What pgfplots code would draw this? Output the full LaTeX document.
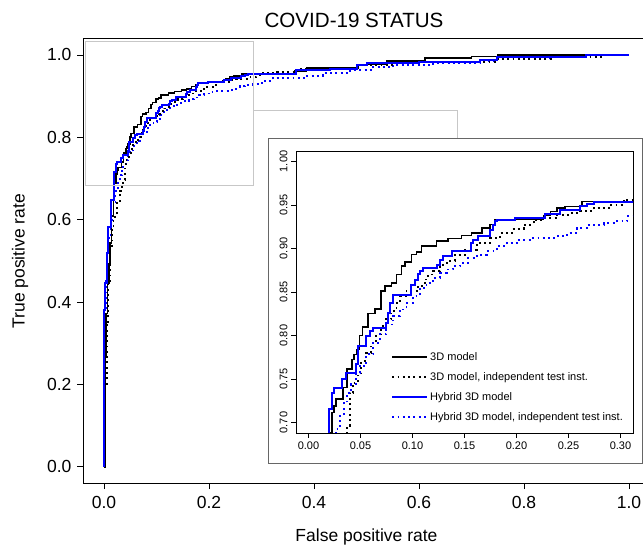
\documentclass[border=0pt]{standalone}
\usepackage{fontspec}
\setmainfont{Liberation Sans}
\usepackage{pgfplots}
\usepackage{pgfplotstable}
\pgfplotsset{compat=1.18}

% 3D model (black solid)
\pgfplotstableread{
x y
0 0
0.0019 0.265
0.004 0.372
0.0064 0.446
0.010 0.494
0.011 0.544
0.0146 0.609
0.018 0.650
0.0196 0.6885
0.0228 0.7115
0.0245 0.7191
0.0267 0.7268
0.0331 0.7401
0.0370 0.7612
0.0421 0.7726
0.0440 0.7780
0.0460 0.7841
0.0492 0.8001
0.0518 0.8097
0.0572 0.8253
0.0637 0.8307
0.0700 0.8510
0.0733 0.8567
0.0797 0.8605
0.0846 0.8701
0.0894 0.8796
0.0926 0.8842
0.0990 0.8930
0.1039 0.8961
0.1087 0.9025
0.1232 0.9083
0.1344 0.9113
0.1473 0.9148
0.1569 0.9178
0.1666 0.9236
0.1746 0.9274
0.1794 0.9331
0.2260 0.9377
0.2325 0.9427
0.2389 0.9465
0.2469 0.9484
0.2630 0.9538
0.364 0.961
0.386 0.969
0.484 0.977
0.538 0.985
0.611 0.992
0.70 0.996
0.75 1.0
1.0 1.0
}\bs

% 3D model, independent test inst. (black dotted)
\pgfplotstableread{
x y
0 0
0.002 0.20
0.005 0.35
0.008 0.45
0.011 0.53
0.015 0.58
0.018 0.607
0.024 0.64
0.030 0.670
0.034 0.685
0.0370 0.6962
0.0395 0.7344
0.0428 0.7459
0.0476 0.7573
0.0508 0.7707
0.0556 0.7803
0.0605 0.7917
0.0653 0.8013
0.0701 0.8108
0.0749 0.8185
0.0797 0.8280
0.0846 0.8376
0.0878 0.8452
0.0942 0.8510
0.1055 0.8567
0.1119 0.8643
0.1151 0.8701
0.1199 0.8739
0.1264 0.8815
0.1328 0.8854
0.1408 0.8930
0.1505 0.8987
0.1617 0.9064
0.1746 0.9121
0.1842 0.9178
0.1955 0.9224
0.2068 0.9274
0.2164 0.9331
0.2260 0.9350
0.2389 0.9389
0.2518 0.9408
0.2614 0.9427
0.2743 0.9465
0.2904 0.9503
0.3032 0.9561
0.329 0.958
0.367 0.966
0.424 0.969
0.488 0.976
0.551 0.980
0.596 0.984
0.748 0.990
0.855 0.996
0.95 1.0
1.0 1.0
}\bd

% Hybrid 3D model (blue solid)
\pgfplotstableread{
x y
0 0
0 0.381
0.002 0.446
0.005 0.519
0.008 0.583
0.0127 0.648
0.0193 0.7153
0.0228 0.7344
0.0241 0.7401
0.0322 0.7497
0.0357 0.7573
0.0460 0.7669
0.0476 0.7879
0.0556 0.7994
0.0588 0.8051
0.0621 0.8089
0.0743 0.8147
0.0765 0.8261
0.0788 0.8376
0.0814 0.8471
0.0990 0.8586
0.1023 0.8643
0.1055 0.8701
0.1071 0.8739
0.1103 0.8777
0.1232 0.8815
0.1264 0.8873
0.1296 0.8911
0.1376 0.8968
0.1559 0.9064
0.1585 0.9102
0.1633 0.9140
0.1746 0.9217
0.1778 0.9274
0.1794 0.9312
0.1810 0.9331
0.1987 0.9350
0.2277 0.9396
0.2421 0.9446
0.2614 0.9484
0.2678 0.9511
0.2743 0.9538
0.366 0.9635
0.431 0.966
0.481 0.976
0.500 0.980
0.600 0.984
0.716 0.988
0.748 0.996
0.919 1.0
1.0 1.0
}\hs

% Hybrid 3D model, independent test inst. (blue dotted)
\pgfplotstableread{
x y
0 0
0.001 0.30
0.003 0.45
0.006 0.52
0.010 0.56
0.014 0.60
0.018 0.64
0.022 0.67
0.0267 0.6924
0.0299 0.7076
0.0338 0.7229
0.0370 0.7344
0.0412 0.7440
0.0460 0.7573
0.0492 0.7650
0.0556 0.7783
0.0621 0.7917
0.0685 0.8013
0.0749 0.8127
0.0814 0.8223
0.0878 0.8299
0.0942 0.8376
0.1006 0.8452
0.1071 0.8548
0.1135 0.8605
0.1199 0.8662
0.1264 0.8720
0.1328 0.8758
0.1392 0.8796
0.1457 0.8834
0.1537 0.8892
0.1617 0.8930
0.1714 0.8968
0.1810 0.9025
0.1907 0.9064
0.2003 0.9102
0.2132 0.9121
0.2389 0.9140
0.2486 0.9178
0.2582 0.9236
0.2678 0.9274
0.2839 0.9293
0.2968 0.9312
0.3064 0.9369
0.322 0.945
0.386 0.950
0.417 0.957
0.469 0.963
0.513 0.970
0.551 0.976
0.627 0.980
0.716 0.985
0.748 0.990
0.85 0.995
0.919 1.0
1.0 1.0
}\hd

\definecolor{rblue}{RGB}{0,0,255}

\pgfplotsset{
  bsol/.style={black, line width=1.6pt, const plot},
  bdot/.style={black, line width=1.9pt, dash pattern=on 1.9pt off 3.4pt, const plot},
  hsol/.style={rblue, line width=2.0pt, const plot},
  hdot/.style={rblue, line width=1.9pt, dash pattern=on 1.9pt off 3.4pt, const plot},
}

\begin{document}
\begin{tikzpicture}
\begin{axis}[
  at={(0pt,0pt)}, anchor=south west, scale only axis,
  width=567pt, height=444.7pt,
  xmin=-0.04, xmax=1.04, ymin=-0.04, ymax=1.04,
  axis line style={line width=0.8pt},
  tick pos=left, tick align=outside, major tick length=6pt,
  every tick/.style={black, line width=0.7pt},
  xtick={0,0.2,0.4,0.6,0.8,1}, xticklabels={0.0,0.2,0.4,0.6,0.8,1.0},
  ytick={0,0.2,0.4,0.6,0.8,1}, yticklabels={0.0,0.2,0.4,0.6,0.8,1.0},
  tick label style={font=\fontsize{17.5}{20}\selectfont},
  xticklabel style={yshift=-4pt},
  yticklabel style={xshift=-2pt},
]
\addplot[hdot] table {\hd};
\addplot[bdot] table {\bd};
\addplot[bsol] table {\bs};
\addplot[hsol] table {\hs};
\draw[black!22, line width=0.8pt] (axis cs:-0.036,0.684) rectangle (axis cs:0.284,1.034);
\draw[black!22, line width=0.8pt] (axis cs:0.284,0.866) -- (axis cs:0.674,0.866) -- (axis cs:0.674,0.798);
\draw[black!60, line width=0.8pt, fill=white] (axis cs:0.314,0.009) rectangle (axis cs:1.025,0.798);
\end{axis}

\node[font=\fontsize{20.6}{24}\selectfont] at (271pt,463pt) {COVID-19 STATUS};
\node[font=\fontsize{17.5}{20}\selectfont] at (283.5pt,-54pt) {False positive rate};
\node[font=\fontsize{17.5}{20}\selectfont, rotate=90] at (-63pt,222pt) {True positive rate};

\begin{axis}[
  at={(213pt,50.2pt)}, anchor=south west, scale only axis,
  width=337pt, height=282pt,
  xmin=-0.012, xmax=0.312, ymin=0.688, ymax=1.012,
  axis line style={line width=0.7pt},
  tick pos=left, tick align=outside, major tick length=5pt,
  every tick/.style={black, line width=0.6pt},
  xtick={0,0.05,0.1,0.15,0.2,0.25,0.3},
  xticklabels={0.00,0.05,0.10,0.15,0.20,0.25,0.30},
  ytick={0.7,0.75,0.8,0.85,0.9,0.95,1.0},
  yticklabels={0.70,0.75,0.80,0.85,0.90,0.95,1.00},
  tick label style={font=\fontsize{11}{13}\selectfont},
  yticklabel style={rotate=90, anchor=south},
  legend cell align=left,
  legend style={draw=none, fill=none, inner sep=0pt,
    at={(axis description cs:0.282,0.294)}, anchor=north west,
    font=\fontsize{11}{13}\selectfont, row sep=6.5pt},
  legend image code/.code={\draw[#1] (0pt,0pt) -- (35pt,0pt);},
]
\addplot[bsol] table {\bs};
\addlegendentry{3D model}
\addplot[bdot] table {\bd};
\addlegendentry{3D model, independent test inst.}
\addplot[hsol] table {\hs};
\addlegendentry{Hybrid 3D model}
\addplot[hdot] table {\hd};
\addlegendentry{Hybrid 3D model, independent test inst.}
\end{axis}

\pgfresetboundingbox
\useasboundingbox (-83pt,-62.8pt) rectangle (560pt,483.2pt);
\end{tikzpicture}
\end{document}
